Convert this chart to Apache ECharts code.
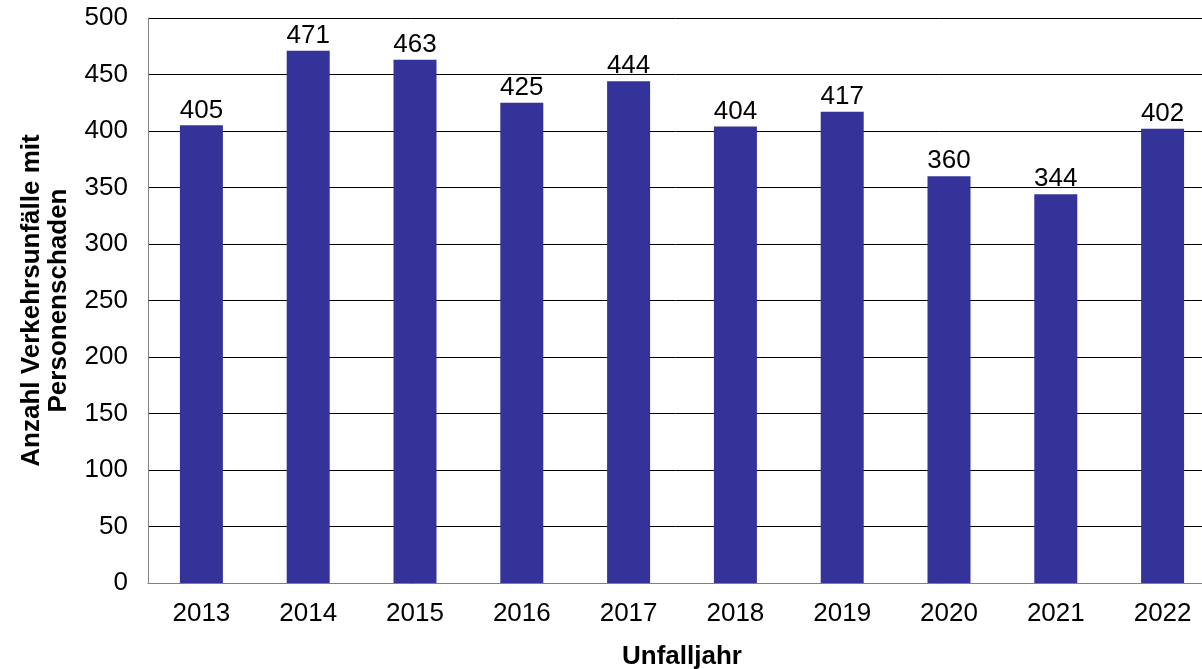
<!DOCTYPE html>
<html><head><meta charset="utf-8">
<script src="https://cdn.jsdelivr.net/npm/echarts@6/dist/echarts.min.js"></script>
<style>html,body{margin:0;padding:0;background:#fff}#c{width:1202px;height:669px}</style>
</head><body><div id="c"></div>
<script>
const categories = ['2013','2014','2015','2016','2017','2018','2019','2020','2021','2022'];
const values = [405, 471, 463, 425, 444, 404, 417, 360, 344, 402];
const yTitle = 'Anzahl Verkehrsunfälle mit\nPersonenschaden';
const xTitle = 'Unfalljahr';

const chart = echarts.init(document.getElementById('c'));
const font = 'Liberation Sans, Arial, sans-serif';
chart.setOption({
  animation: false,
  grid: { left: 148, top: 18, right: -14, bottom: 86, containLabel: false, outerBoundsMode: 'none' },
  xAxis: {
    type: 'category', data: categories,
    axisLine: { show: true, lineStyle: { color: '#808080', width: 1 } },
    axisTick: { show: false },
    axisLabel: { color: '#000', fontFamily: font, fontSize: 26, margin: 18 },
    name: xTitle, nameLocation: 'middle', nameGap: 61,
    nameTextStyle: { color: '#000', fontFamily: font, fontSize: 26, fontWeight: 'bold' }
  },
  yAxis: {
    type: 'value', min: 0, max: 500, interval: 50,
    axisLine: { show: true, lineStyle: { color: '#808080', width: 1 } },
    axisTick: { show: false },
    splitLine: { show: true, lineStyle: { color: '#000', width: 1 } },
    axisLabel: { color: '#000', fontFamily: font, fontSize: 26, margin: 20 },
    name: yTitle, nameLocation: 'middle', nameGap: 76,
    nameTextStyle: { color: '#000', fontFamily: font, fontSize: 26, fontWeight: 'bold', lineHeight: 27 }
  },
  series: [{
    type: 'bar', data: values, barWidth: 43,
    itemStyle: { color: '#333399' },
    label: { show: true, position: 'top', distance: 2, color: '#000', fontFamily: font, fontSize: 26 }
  }]
});
</script></body></html>
